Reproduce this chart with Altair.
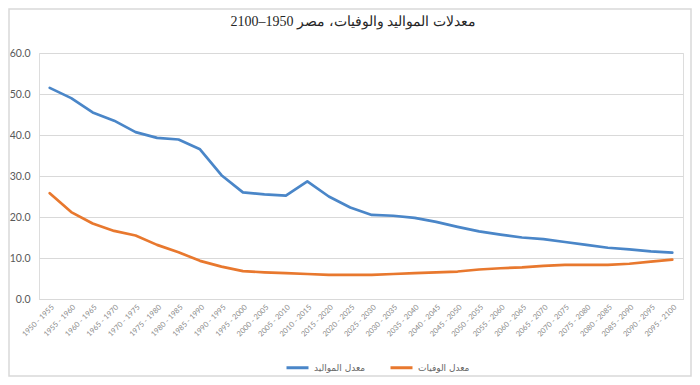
import altair as alt
import pandas as pd

periods = [
    "1950 - 1955", "1955 - 1960", "1960 - 1965", "1965 - 1970", "1970 - 1975",
    "1975 - 1980", "1980 - 1985", "1985 - 1990", "1990 - 1995", "1995 - 2000",
    "2000 - 2005", "2005 - 2010", "2010 - 2015", "2015 - 2020", "2020 - 2025",
    "2025 - 2030", "2030 - 2035", "2035 - 2040", "2040 - 2045", "2045 - 2050",
    "2050 - 2055", "2055 - 2060", "2060 - 2065", "2065 - 2070", "2070 - 2075",
    "2075 - 2080", "2080 - 2085", "2085 - 2090", "2090 - 2095", "2095 - 2100",
]
births = [51.5, 49.0, 45.5, 43.5, 40.7, 39.3, 38.9, 36.5, 30.2, 26.0,
          25.5, 25.2, 28.7, 25.0, 22.3, 20.5, 20.3, 19.8, 18.8, 17.6,
          16.5, 15.7, 15.0, 14.6, 13.9, 13.2, 12.5, 12.1, 11.6, 11.3]
deaths = [25.8, 21.2, 18.4, 16.6, 15.5, 13.2, 11.4, 9.3, 7.9, 6.8,
          6.5, 6.3, 6.1, 5.9, 5.9, 5.9, 6.1, 6.3, 6.5, 6.7,
          7.2, 7.5, 7.7, 8.1, 8.3, 8.3, 8.3, 8.6, 9.1, 9.6]
series_names = ["معدل المواليد", "معدل الوفيات"]
series_colors = ["#4a86c8", "#e8782e"]
y_ticks = [0, 10, 20, 30, 40, 50, 60]
title_text = "\u202bمعدلات المواليد والوفيات، مصر 1950–2100\u202c"

rows = []
for p, b, d in zip(periods, births, deaths):
    rows.append({"period": p, "series": series_names[0], "value": b})
    rows.append({"period": p, "series": series_names[1], "value": d})
df = pd.DataFrame(rows)

lines = alt.Chart(df).mark_line(strokeWidth=2.7, strokeCap="round", strokeJoin="round").encode(
    x=alt.X("period:N", sort=periods, scale=alt.Scale(type="point", padding=0.5),
            axis=alt.Axis(title=None, labelAngle=-45, labelFontSize=7.5, labelColor="#8a8a8a",
                          labelFont="Lato", ticks=False, domainColor="#d9d9d9", domainWidth=1,
                          labelPadding=4, grid=False)),
    y=alt.Y("value:Q", scale=alt.Scale(domain=[0, 60], nice=False),
            axis=alt.Axis(title=None, values=y_ticks, format=".1f", labelFontSize=10.5,
                          labelColor="#595959", labelFont="Lato", ticks=False, domain=False,
                          gridColor="#d9d9d9", gridWidth=1, labelPadding=9)),
    color=alt.Color("series:N", sort=series_names,
                    scale=alt.Scale(domain=series_names, range=series_colors),
                    legend=alt.Legend(title=None, orient="none", legendX=246, legendY=302,
                                      direction="horizontal", symbolType="stroke",
                                      symbolSize=484, symbolStrokeWidth=3,
                                      labelFontSize=9, labelColor="#666666",
                                      labelFont="DejaVu Sans", columnPadding=18,
                                      labelOffset=4)),
)

frame = alt.Chart(alt.Data(values=[{"a": 1}])).mark_rect(
    fill=None, stroke="#d9d9d9", strokeWidth=1.5
).encode(
    x=alt.value(-30), x2=alt.value(652), y=alt.value(-44), y2=alt.value(323)
)

chart = alt.layer(frame, lines).properties(
    width=644,
    height=246,
    autosize=alt.AutoSizeParams(type="none"),
    padding={"left": 31, "top": 45, "right": 9, "bottom": 78},
    title=alt.TitleParams(title_text, font="Liberation Serif", fontSize=14,
                          fontWeight="normal", color="#262626", anchor="middle",
                          dx=-8, offset=-21),
).configure_view(stroke=None).configure(background="white")

chart.save("out.html", embed_options={"renderer": "svg", "actions": False})
